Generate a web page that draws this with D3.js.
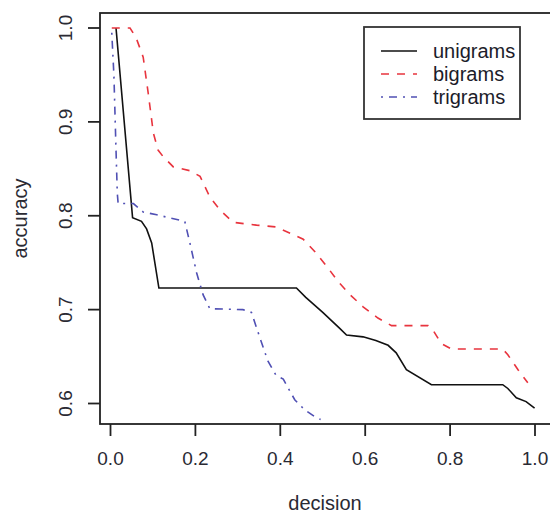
<!DOCTYPE html>
<meta charset="utf-8">
<style>
    body { margin: 0; background: #fff; }
    svg { display: block; }
    text { font-family: "Liberation Sans", Arial, sans-serif; fill: #2a2a33; }
    .ticklab { font-size: 19px; }
    .axlab { font-size: 20px; }
    .legend text { font-size: 20px; fill: #1c1c2a; }
</style>
<svg width="550" height="514"></svg>
<script src="https://d3js.org/d3.v7.min.js"></script>
<script>
    // tick values
    var xTicks = [0.0, 0.2, 0.4, 0.6, 0.8, 1.0];
    var yTicks = [0.6, 0.7, 0.8, 0.9, 1.0];

    var seriesNames = ["unigrams", "bigrams", "trigrams"];

    // unigrams (black solid)
    var uniX = [0.013, 0.052, 0.073, 0.085, 0.097, 0.114, 0.438, 0.46, 0.5, 0.54, 0.556, 0.595, 0.625, 0.654, 0.673, 0.697, 0.756, 0.924, 0.936, 0.956, 0.979, 0.999];
    var uniY = [1.0, 0.798, 0.794, 0.786, 0.771, 0.723, 0.723, 0.713, 0.697, 0.680, 0.673, 0.671, 0.667, 0.662, 0.654, 0.636, 0.620, 0.620, 0.616, 0.606, 0.602, 0.595];

    // bigrams (red dashed)
    var biX = [0.003, 0.046, 0.060, 0.077, 0.089, 0.101, 0.112, 0.124, 0.148, 0.187, 0.211, 0.234, 0.258, 0.289, 0.344, 0.391, 0.454, 0.481, 0.513, 0.536, 0.564, 0.595, 0.630, 0.662, 0.748, 0.760, 0.779, 0.803, 0.924, 0.936, 0.960, 0.983];
    var biY = [1.0, 1.0, 0.99, 0.969, 0.930, 0.888, 0.870, 0.863, 0.852, 0.848, 0.842, 0.820, 0.806, 0.793, 0.790, 0.788, 0.775, 0.762, 0.744, 0.730, 0.716, 0.703, 0.691, 0.683, 0.683, 0.678, 0.664, 0.658, 0.658, 0.652, 0.636, 0.622];

    // trigrams (blue dot-dash)
    var triX = [0.003, 0.008, 0.013, 0.016, 0.018, 0.054, 0.077, 0.109, 0.175, 0.187, 0.203, 0.218, 0.234, 0.312, 0.332, 0.352, 0.371, 0.390, 0.407, 0.434, 0.458, 0.481, 0.495];
    var triY = [0.995, 0.95, 0.87, 0.824, 0.813, 0.813, 0.804, 0.801, 0.794, 0.771, 0.739, 0.716, 0.701, 0.700, 0.697, 0.670, 0.645, 0.630, 0.626, 0.604, 0.593, 0.586, 0.583];

    var svg = d3.select("svg");

    // plot box in pixels
    var boxL = 100, boxT = 13, boxR = 552, boxB = 424;

    var x = d3.scaleLinear().domain([0, 1]).range([110.5, 535]);
    var y = d3.scaleLinear().domain([0.6, 1.0]).range([403.5, 28]);

    var styles = [
        {color: "#111111", dash: null, width: 1.6},
        {color: "#e8343e", dash: "8,8", width: 1.6},
        {color: "#5050b4", dash: "2,6,8,6", width: 1.6}
    ];

    var series = [
        uniX.map(function (d, i) { return [d, uniY[i]]; }),
        biX.map(function (d, i) { return [d, biY[i]]; }),
        triX.map(function (d, i) { return [d, triY[i]]; })
    ];

    svg.append("clipPath").attr("id", "clip")
        .append("rect")
        .attr("x", boxL).attr("y", boxT)
        .attr("width", boxR - boxL).attr("height", boxB - boxT);

    var line = d3.line()
        .x(function (d) { return x(d[0]); })
        .y(function (d) { return y(d[1]); });

    svg.append("g").attr("clip-path", "url(#clip)")
        .selectAll("path")
        .data(series)
        .enter()
        .append("path")
        .attr("d", line)
        .attr("fill", "none")
        .attr("stroke", function (d, i) { return styles[i].color; })
        .attr("stroke-width", function (d, i) { return styles[i].width; })
        .attr("stroke-dasharray", function (d, i) { return styles[i].dash; });

    // box
    svg.append("rect")
        .attr("x", boxL).attr("y", boxT)
        .attr("width", boxR - boxL).attr("height", boxB - boxT)
        .attr("fill", "none")
        .attr("stroke", "#222")
        .attr("stroke-width", 1.8);

    // x axis ticks
    var gx = svg.append("g");
    gx.selectAll("line").data(xTicks).enter().append("line")
        .attr("x1", function (d) { return x(d); })
        .attr("x2", function (d) { return x(d); })
        .attr("y1", boxB).attr("y2", boxB + 12)
        .attr("stroke", "#222").attr("stroke-width", 1.8);
    gx.selectAll("text").data(xTicks).enter().append("text")
        .attr("class", "ticklab")
        .attr("x", function (d) { return x(d); })
        .attr("y", 465)
        .attr("text-anchor", "middle")
        .text(function (d) { return d.toFixed(1); });

    // y axis ticks
    var gy = svg.append("g");
    gy.selectAll("line").data(yTicks).enter().append("line")
        .attr("x1", boxL - 12).attr("x2", boxL)
        .attr("y1", function (d) { return y(d); })
        .attr("y2", function (d) { return y(d); })
        .attr("stroke", "#222").attr("stroke-width", 1.8);
    gy.selectAll("text").data(yTicks).enter().append("text")
        .attr("class", "ticklab")
        .attr("transform", function (d) { return "translate(72," + y(d) + ") rotate(-90)"; })
        .attr("text-anchor", "middle")
        .text(function (d) { return d.toFixed(1); });

    // axis titles
    svg.append("text").attr("class", "axlab")
        .attr("x", 325).attr("y", 510)
        .attr("text-anchor", "middle")
        .text("decision");
    svg.append("text").attr("class", "axlab")
        .attr("transform", "translate(27," + ((boxT + boxB) / 2) + ") rotate(-90)")
        .attr("text-anchor", "middle")
        .text("accuracy");

    // legend
    var lg = svg.append("g").attr("class", "legend");
    lg.append("rect")
        .attr("x", 364).attr("y", 27)
        .attr("width", 156).attr("height", 92)
        .attr("fill", "#fff")
        .attr("stroke", "#333").attr("stroke-width", 1.8);
    var rows = lg.selectAll("g.row").data(seriesNames).enter().append("g")
        .attr("class", "row")
        .attr("transform", function (d, i) { return "translate(0," + (51 + i * 23) + ")"; });
    rows.append("line")
        .attr("x1", 381).attr("x2", 417)
        .attr("y1", 0).attr("y2", 0)
        .attr("stroke", function (d, i) { return styles[i].color; })
        .attr("stroke-width", function (d, i) { return styles[i].width; })
        .attr("stroke-dasharray", function (d, i) { return styles[i].dash; });
    rows.append("text")
        .attr("x", 433).attr("y", 6.5)
        .text(function (d) { return d; });
</script>
